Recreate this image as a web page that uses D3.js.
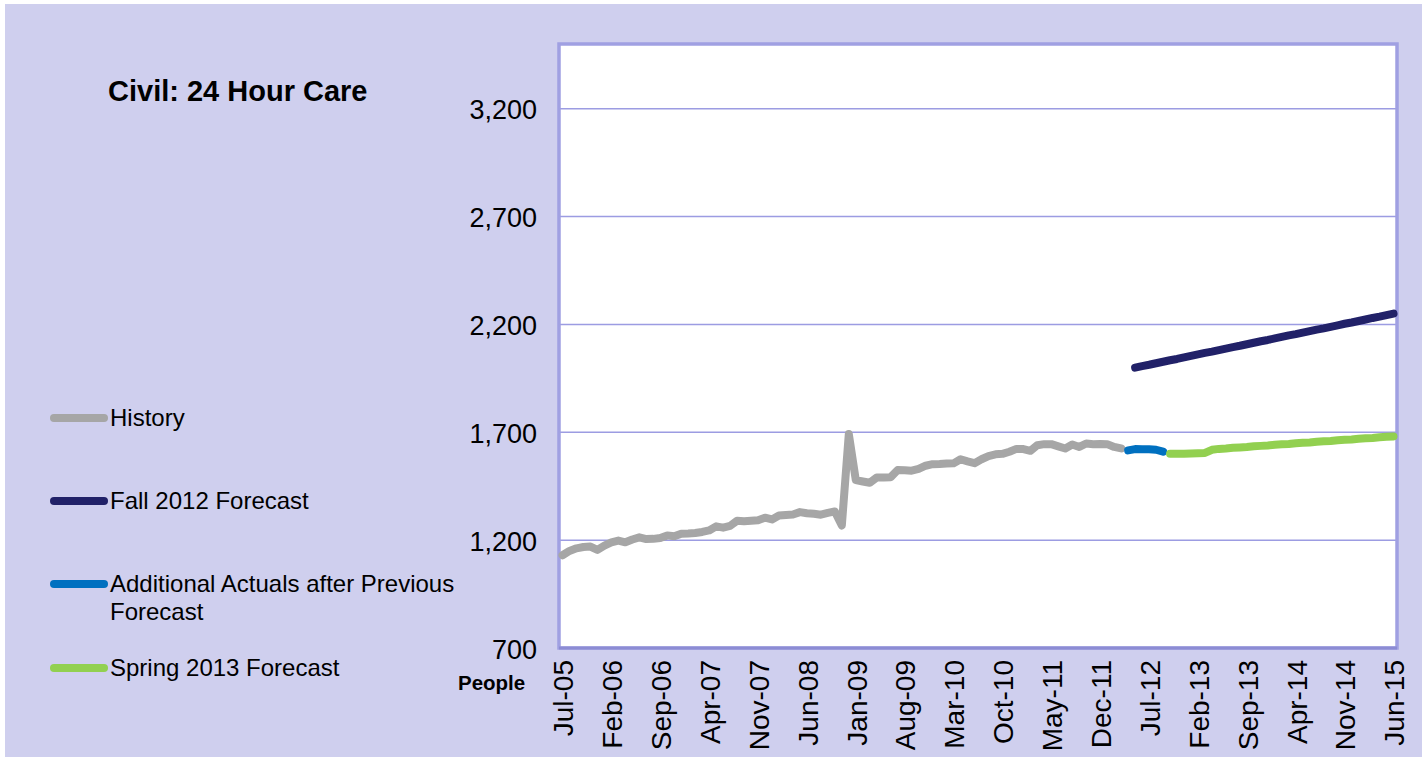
<!DOCTYPE html>
<html><head><meta charset="utf-8">
<script src="https://cdn.jsdelivr.net/npm/d3@7"></script>
<style>html,body{margin:0;padding:0;background:#fff;}svg{display:block;}</style>
</head><body>
<svg id="chart" width="1422" height="757"></svg>
<script>
// ---- data ----
const startMonth = "2005-07";
const monthCount = 120;
const tickLabels = ["Jul-05","Feb-06","Sep-06","Apr-07","Nov-07","Jun-08","Jan-09","Aug-09","Mar-10","Oct-10","May-11","Dec-11","Jul-12","Feb-13","Sep-13","Apr-14","Nov-14","Jun-15"];
const yTicks = [700,1200,1700,2200,2700,3200];

// History: index 0 (Jul-05) .. 80 (Mar-12)
const historyStart = 0;
const historyValues = [1130,1150,1162,1168,1170,1155,1175,1190,1198,1190,1203,1213,1205,1206,1210,1222,1218,1230,1231,1233,
  1238,1245,1264,1258,1266,1290,1288,1290,1292,1304,1296,1314,1317,1319,1330,1325,1322,1318,1326,1333,
  1268,1692,1478,1472,1466,1490,1490,1492,1525,1524,1522,1530,1545,1552,1553,1555,1556,1575,1565,1557,
  1575,1590,1598,1600,1610,1623,1622,1614,1640,1645,1645,1635,1625,1643,1632,1648,1645,1646,1645,1632,1625];
// Fall 2012 Forecast: index 82 (May-12) .. 119 (Jun-15)
const fallStart = 82;
const fallValues = [2000,2007,2013,2020,2027,2034,2040,2047,2054,2061,2068,2074,2081,2088,2095,2101,2108,2115,2122,2128,
  2135,2142,2149,2155,2162,2169,2176,2182,2189,2196,2203,2209,2216,2223,2230,2236,2243,2250];
// Additional actuals: index 81 (Apr-12) .. 86 (Sep-12)
const actualsStart = 81;
const actualsValues = [1616,1622,1621,1621,1619,1610];
// Spring 2013 Forecast: index 87 (Oct-12) .. 119 (Jun-15)
const springStart = 87;
const springValues = [1600,1600,1601,1602,1603,1604,1619,1623,1625,1628,1630,1632,1635,1637,1639,1642,1644,1646,1649,1651,
  1653,1656,1658,1660,1663,1665,1667,1670,1672,1674,1677,1679,1681];

const seriesNames = ["History","Fall 2012 Forecast","Additional Actuals after Previous Forecast","Spring 2013 Forecast"];
const seriesColors = ["#A6A6A6","#212168","#0070C0","#92D050"];

// ---- build ----
const fmt = d3.timeFormat("%b-%y");
const t0 = d3.timeParse("%Y-%m")(startMonth);
const months = d3.range(monthCount).map(i => fmt(d3.timeMonth.offset(t0, i)));

const series = [
  {name: seriesNames[0], color: seriesColors[0], start: historyStart, values: historyValues},
  {name: seriesNames[1], color: seriesColors[1], start: fallStart, values: fallValues},
  {name: seriesNames[2], color: seriesColors[2], start: actualsStart, values: actualsValues},
  {name: seriesNames[3], color: seriesColors[3], start: springStart, values: springValues}
];

const svg = d3.select("#chart");
const W = 1422, H = 757;
const plot = {left: 559, right: 1397, top: 44, bottom: 648};
const FONT = "Liberation Sans, Arial, sans-serif";

svg.append("rect").attr("x",5).attr("y",4).attr("width",W-5).attr("height",H-4).attr("fill","#CFCFEE");
svg.append("rect").attr("x",plot.left).attr("y",plot.top).attr("width",plot.right-plot.left).attr("height",plot.bottom-plot.top).attr("fill","#fff");

const x = d3.scaleBand().domain(months).range([plot.left, plot.right]).paddingInner(0).paddingOuter(0);
const xc = i => x(months[i]) + x.bandwidth()/2;
const y = d3.scaleLinear().domain([700, 3500]).range([plot.bottom, plot.top]);

// gridlines
svg.append("g").selectAll("line").data(yTicks.slice(1)).join("line")
  .attr("x1",plot.left).attr("x2",plot.right)
  .attr("y1",d=>y(d)).attr("y2",d=>y(d))
  .attr("stroke","#9C9CE2").attr("stroke-width",1.5);

// y labels via axis
const yAxis = svg.append("g").attr("transform",`translate(${plot.left},0)`)
  .call(d3.axisLeft(y).tickValues(yTicks).tickFormat(d3.format(",")).tickSize(0).tickPadding(22));
yAxis.select(".domain").remove();
yAxis.selectAll("text").attr("font-family",FONT).attr("font-size",27).attr("fill","#000").attr("dy","0.38em");

// x labels via axis
const xAxis = svg.append("g").attr("transform",`translate(0,${plot.bottom})`)
  .call(d3.axisBottom(x).tickValues(tickLabels).tickSize(0).tickFormat(d=>d));
xAxis.select(".domain").remove();
xAxis.selectAll("text")
  .attr("font-family",FONT).attr("font-size",28).attr("fill","#000")
  .attr("text-anchor","end").attr("transform","rotate(-90)")
  .attr("x",-12).attr("y",1).attr("dy","0.35em");

// plot border
svg.append("rect").attr("x",plot.left).attr("y",plot.top).attr("width",plot.right-plot.left).attr("height",plot.bottom-plot.top)
  .attr("fill","none").attr("stroke","#A0A0E2").attr("stroke-width",3.5);
svg.append("line").attr("x1",plot.left).attr("x2",plot.right).attr("y1",plot.bottom).attr("y2",plot.bottom)
  .attr("stroke","#8C8CD4").attr("stroke-width",3);

// lines
const line = d3.line().x(d=>xc(d.i)).y(d=>y(d.v));
series.forEach(s => {
  const pts = s.values.map((v,k)=>({i:s.start+k, v}));
  svg.append("path").datum(pts).attr("d",line).attr("fill","none")
    .attr("stroke",s.color).attr("stroke-width",8).attr("stroke-linejoin","round").attr("stroke-linecap","round");
});

// title
svg.append("text").attr("x",108).attr("y",101).text("Civil: 24 Hour Care")
  .attr("font-family",FONT).attr("font-weight","bold").attr("font-size",29).attr("fill","#000");

// People
svg.append("text").attr("x",458).attr("y",690).text("People")
  .attr("font-family",FONT).attr("font-weight","bold").attr("font-size",20.5).attr("fill","#000");

// legend
const legY = [418, 501, 584, 668];
const lg = svg.append("g");
series.forEach((s,k) => {
  lg.append("line").attr("x1",54).attr("x2",104).attr("y1",legY[k]).attr("y2",legY[k])
    .attr("stroke",s.color).attr("stroke-width",8).attr("stroke-linecap","round");
  const t = lg.append("text").attr("x",110).attr("y",legY[k]).attr("dy","0.35em")
    .attr("font-family",FONT).attr("font-size",24).attr("fill","#000");
  if (k === 2) {
    t.append("tspan").attr("x",110).text("Additional Actuals after Previous");
    t.append("tspan").attr("x",110).attr("dy","1.15em").text("Forecast");
  } else t.text(s.name);
});
</script>
</body></html>
